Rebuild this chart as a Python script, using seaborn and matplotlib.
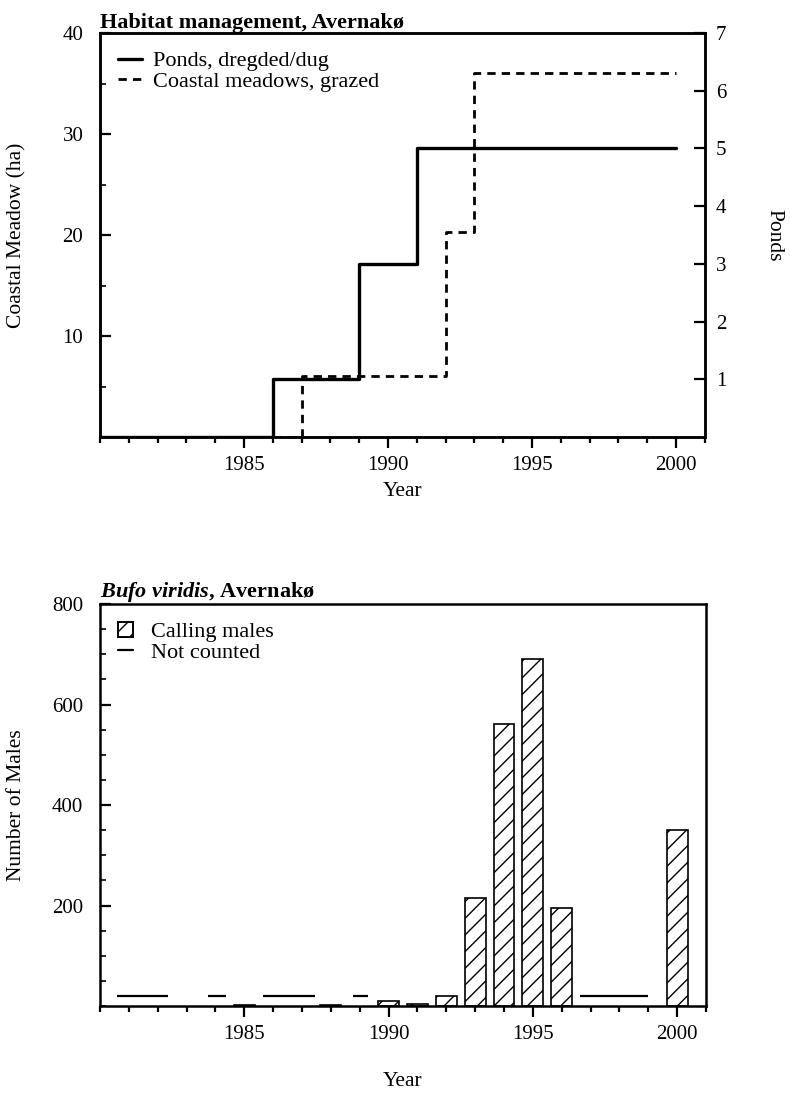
import numpy as np
import matplotlib
matplotlib.use("Agg")
import matplotlib.pyplot as plt
import matplotlib.ticker as mticker
from matplotlib.patches import Patch
from matplotlib.lines import Line2D
import seaborn as sns

sns.set_theme(style="ticks")
plt.rcParams["font.family"] = ["Liberation Serif", "DejaVu Serif"]
plt.rcParams["mathtext.fontset"] = "custom"
plt.rcParams["mathtext.it"] = "Liberation Serif:italic:bold"
plt.rcParams["mathtext.rm"] = "Liberation Serif:bold"
plt.rcParams["hatch.linewidth"] = 1.0
plt.rcParams["axes.linewidth"] = 1.8
plt.rcParams["text.color"] = "black"
plt.rcParams["axes.labelcolor"] = "black"
plt.rcParams["xtick.color"] = "black"
plt.rcParams["ytick.color"] = "black"

# ── Data ─────────────────────────────────────────────────────────────────────
pond_years = [1980, 1986, 1989, 1991, 2000]
ponds = [0, 1, 3, 5, 5]

meadow_years = [1986, 1987, 1992, 1993, 2000]
meadow_ha = [0, 6, 20.3, 36, 36]

bar_years = [1985, 1988, 1990, 1991, 1992, 1993, 1994, 1995, 1996, 2000]
calling_males = [3, 3, 10, 5, 20, 214, 562, 690, 196, 350]

# periods with no count (start, end in years)
nc_start = [1980.6, 1983.75, 1985.65, 1988.75, 1996.65]
nc_end = [1982.35, 1984.35, 1987.45, 1989.3, 1999.0]
nc_level = 20

FS = 15      # tick labels
LFS = 15.5   # axis labels
GFS = 16     # legends
TFS = 16     # titles

fig = plt.figure(figsize=(7.9, 11.02), dpi=100)
ax1 = fig.add_axes([0.1266, 0.6034, 0.7654, 0.3666])
ax3 = fig.add_axes([0.1266, 0.0871, 0.7671, 0.3648])

# ── Top: habitat management ─────────────────────────────────────────────────
ax2 = ax1.twinx()
sns.lineplot(x=meadow_years, y=meadow_ha, ax=ax1, color="black",
             linewidth=2.0, linestyle=(0, (3, 2.2)), drawstyle="steps-post",
             errorbar=None)
sns.lineplot(x=pond_years, y=ponds, ax=ax2, color="black",
             linewidth=2.4, drawstyle="steps-post", errorbar=None)

ax1.set_xlim(1980, 2001)
ax1.set_ylim(0, 40)
ax2.set_ylim(0, 7)
ax1.set_yticks([10, 20, 30, 40])
ax1.yaxis.set_minor_locator(mticker.MultipleLocator(5))
ax2.set_yticks([1, 2, 3, 4, 5, 6, 7])
ax1.set_ylabel("Coastal Meadow (ha)", fontsize=LFS)
ax1.yaxis.set_label_coords(-0.122, 0.5)
ax2.set_ylabel("Ponds", fontsize=LFS, rotation=-90, va="center")
ax2.yaxis.set_label_coords(1.115, 0.5)
ax1.set_xlabel("Year", fontsize=LFS, labelpad=5)
ax1.set_title("Habitat management, Avernakø", loc="left",
              fontsize=TFS, fontweight="bold", pad=3)

handles = [Line2D([], [], color="black", linewidth=2.4),
           Line2D([], [], color="black", linewidth=2.0, linestyle=(0, (3, 2.2)))]
ax1.legend(handles, ["Ponds, dregded/dug", "Coastal meadows, grazed"],
           loc="upper left", frameon=False, fontsize=GFS,
           handlelength=1.1, handletextpad=0.5, labelspacing=0.0,
           borderaxespad=0.4, borderpad=0.4)

# ── Bottom: Bufo viridis calling males ──────────────────────────────────────
sns.barplot(x=bar_years, y=calling_males, ax=ax3, native_scale=True,
            width=0.72, color="white", edgecolor="black", linewidth=1.2,
            hatch="//", errorbar=None, saturation=1)
ax3.hlines([nc_level] * len(nc_start), nc_start, nc_end,
           color="black", linewidth=1.6)

ax3.set_xlim(1980, 2001)
ax3.set_ylim(0, 800)
ax3.set_yticks([200, 400, 600, 800])
ax3.yaxis.set_minor_locator(mticker.MultipleLocator(50))
ax3.set_ylabel("Number of Males", fontsize=LFS)
ax3.yaxis.set_label_coords(-0.122, 0.5)
ax3.set_xlabel("Year", fontsize=LFS, labelpad=20)
ax3.set_title(r"$\it{Bufo\ viridis}$, Avernakø", loc="left",
              fontsize=TFS, fontweight="bold", pad=3)

handles = [Patch(facecolor="white", edgecolor="black", hatch="//", linewidth=1.4),
           Line2D([], [], color="black", linewidth=1.6)]
ax3.legend(handles, ["Calling males", "Not counted"], loc="upper left",
           frameon=False, fontsize=GFS, handlelength=0.7, handleheight=0.7,
           handletextpad=0.8, labelspacing=0.0, borderaxespad=0.5,
           borderpad=0.3)

# ── Shared tick styling ─────────────────────────────────────────────────────
for ax in (ax1, ax3):
    ax.set_xticks([1985, 1990, 1995, 2000])
    ax.xaxis.set_minor_locator(mticker.MultipleLocator(1))
    ax.tick_params(axis="x", which="major", direction="out", length=8,
                   width=1.6, labelsize=FS, pad=6)
    ax.tick_params(axis="x", which="minor", direction="out", length=4, width=1.6)
    ax.tick_params(axis="y", which="major", direction="in", length=8,
                   width=1.6, labelsize=FS, pad=12)
    ax.tick_params(axis="y", which="minor", direction="in", length=4, width=1.2)
    for s in ax.spines.values():
        s.set_visible(True)
        s.set_color("black")
ax2.tick_params(axis="y", which="major", direction="in", length=8,
                width=1.6, labelsize=FS, pad=8)
for s in ax2.spines.values():
    s.set_color("black")

fig.savefig("out.png", dpi=100)
